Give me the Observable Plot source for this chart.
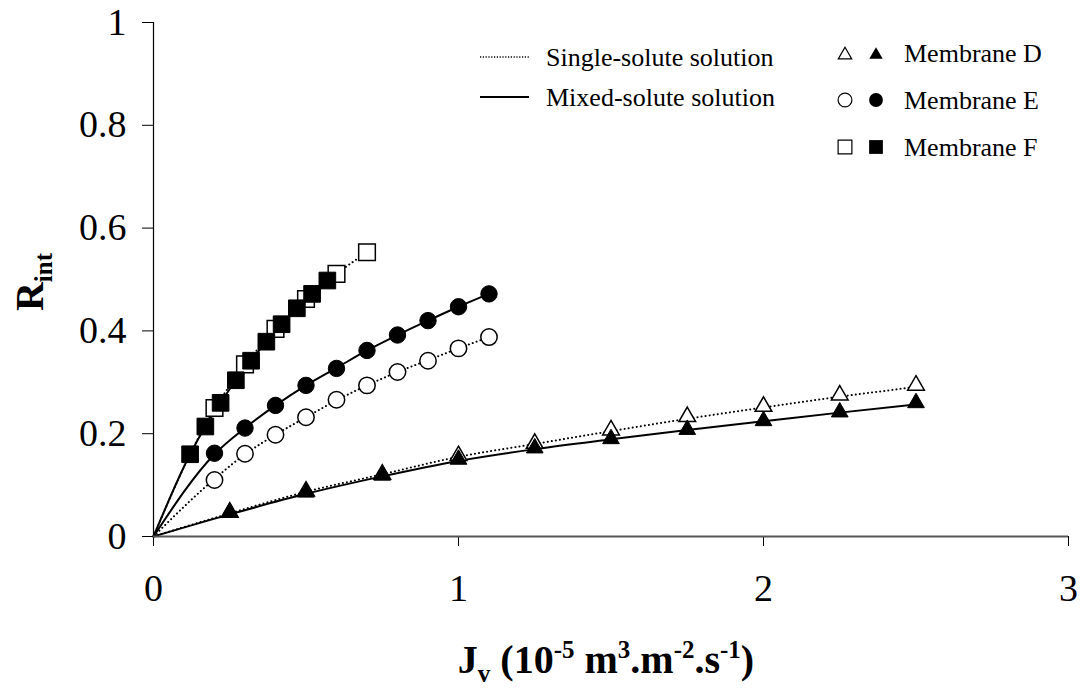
<!DOCTYPE html>
<html><head><meta charset="utf-8">
<script src="https://cdn.jsdelivr.net/npm/d3@7"></script>
<script src="https://cdn.jsdelivr.net/npm/@observablehq/plot@0.6"></script>
<style>
html,body{margin:0;padding:0;background:#fff;}
#wrap{position:relative;width:1082px;height:690px;overflow:hidden;}
#overlay{position:absolute;left:0;top:0;pointer-events:none;}
</style></head><body><div id="wrap"></div>
<script>
// ---- data ----
// Membrane D
const dX = [0.25, 0.5, 0.75, 1.0, 1.25, 1.5, 1.75, 2.0, 2.25, 2.5];
const dSingle = [0.047, 0.088, 0.121, 0.157, 0.181, 0.207, 0.233, 0.253, 0.275, 0.294];
const dMixed  = [0.047, 0.086, 0.119, 0.150, 0.172, 0.190, 0.208, 0.225, 0.242, 0.260];
// Membrane E
const eX = [0.2, 0.3, 0.4, 0.5, 0.6, 0.7, 0.8, 0.9, 1.0, 1.1];
const eSingle = [0.110, 0.161, 0.198, 0.232, 0.266, 0.294, 0.320, 0.342, 0.366, 0.388];
const eMixed  = [0.162, 0.211, 0.255, 0.294, 0.327, 0.362, 0.392, 0.420, 0.447, 0.472];
// Membrane F
const fSingleX = [0.2, 0.3, 0.4, 0.5, 0.6, 0.7];
const fSingle  = [0.250, 0.335, 0.404, 0.462, 0.511, 0.553];
const fMixedX  = [0.12, 0.17, 0.22, 0.27, 0.32, 0.37, 0.42, 0.47, 0.52, 0.57];
const fMixed   = [0.160, 0.214, 0.260, 0.304, 0.342, 0.379, 0.413, 0.444, 0.472, 0.498];

// fitted curves (all start at the origin)
const dSingleCurveX = [0, 0.25, 0.5, 0.75, 1.0, 1.25, 1.5, 1.75, 2.0, 2.25, 2.5];
const dSingleCurveY = [0, 0.045, 0.087, 0.121, 0.155, 0.180, 0.205, 0.229, 0.251, 0.272, 0.291];
const dMixedCurveX  = [0, 0.25, 0.5, 0.75, 1.0, 1.25, 1.5, 1.75, 2.0, 2.25, 2.5];
const dMixedCurveY  = [0, 0.043, 0.083, 0.117, 0.147, 0.170, 0.189, 0.207, 0.224, 0.241, 0.257];
const eSingleCurveX = [0, 0.2, 0.3, 0.4, 0.5, 0.6, 0.7, 0.8, 0.9, 1.0, 1.1];
const eSingleCurveY = [0, 0.112, 0.160, 0.198, 0.232, 0.265, 0.294, 0.320, 0.343, 0.366, 0.388];
const eMixedCurveX  = [0, 0.2, 0.3, 0.4, 0.5, 0.6, 0.7, 0.8, 0.9, 1.0, 1.1];
const eMixedCurveY  = [0, 0.160, 0.211, 0.255, 0.294, 0.328, 0.362, 0.392, 0.420, 0.447, 0.472];
const fSingleCurveX = [0, 0.12, 0.2, 0.3, 0.4, 0.5, 0.6, 0.7];
const fSingleCurveY = [0, 0.160, 0.248, 0.333, 0.404, 0.462, 0.511, 0.553];
const fMixedCurveX  = [0, 0.12, 0.17, 0.22, 0.27, 0.32, 0.37, 0.42, 0.47, 0.52, 0.57];
const fMixedCurveY  = [0, 0.160, 0.214, 0.260, 0.304, 0.342, 0.379, 0.413, 0.444, 0.472, 0.498];

const xTicks = [0, 1, 2, 3];
const yTicks = [0, 0.2, 0.4, 0.6, 0.8, 1];

const legendLines = ["Single-solute solution", "Mixed-solute solution"];
const legendMembranes = ["Membrane D", "Membrane E", "Membrane F"];

// ---- build tables ----
const toRows = (xs, ys, membrane, solution) => xs.map((x, i) => ({x, y: ys[i], membrane, solution}));
const ptsSingleD = toRows(dX, dSingle, "D", "single");
const ptsMixedD  = toRows(dX, dMixed, "D", "mixed");
const ptsSingleE = toRows(eX, eSingle, "E", "single");
const ptsMixedE  = toRows(eX, eMixed, "E", "mixed");
const ptsSingleF = toRows(fSingleX, fSingle, "F", "single");
const ptsMixedF  = toRows(fMixedX, fMixed, "F", "mixed");

const curvesSingle = [
  ...toRows(dSingleCurveX, dSingleCurveY, "D", "single"),
  ...toRows(eSingleCurveX, eSingleCurveY, "E", "single"),
  ...toRows(fSingleCurveX, fSingleCurveY, "F", "single")
];
const curvesMixed = [
  ...toRows(dMixedCurveX, dMixedCurveY, "D", "mixed"),
  ...toRows(eMixedCurveX, eMixedCurveY, "E", "mixed"),
  ...toRows(fMixedCurveX, fMixedCurveY, "F", "mixed")
];

const open = {fill: "white", stroke: "black", strokeWidth: 1.5};
const filled = {fill: "black", stroke: "black", strokeWidth: 1};

const chart = Plot.plot({
  width: 1082,
  height: 690,
  marginLeft: 153,
  marginRight: 14,
  marginTop: 22,
  marginBottom: 154,
  style: {fontFamily: "'Liberation Serif', 'Times New Roman', serif", fontSize: "38px", background: "white", color: "black"},
  x: {domain: [0, 3], ticks: xTicks, tickFormat: d3.format("~g"), tickSize: 10, tickPadding: 28, label: null},
  y: {domain: [0, 1], ticks: yTicks, tickFormat: d3.format("~g"), tickSize: 11, tickPadding: 16, label: null},
  marks: [
    Plot.ruleX([0], {stroke: "black", strokeWidth: 1.2}),
    Plot.line(curvesSingle, {x: "x", y: "y", z: "membrane", curve: "monotone-x", stroke: "black", strokeWidth: 2, strokeDasharray: "0.1,4", strokeLinecap: "round"}),
    Plot.line(curvesMixed, {x: "x", y: "y", z: "membrane", curve: "monotone-x", stroke: "black", strokeWidth: 2}),
    Plot.dot(ptsSingleD, {x: "x", y: "y", symbol: "triangle", r: 6.2, ...open}),
    Plot.dot(ptsMixedD, {x: "x", y: "y", symbol: "triangle", r: 6.2, ...filled}),
    Plot.dot(ptsSingleE, {x: "x", y: "y", symbol: "circle", r: 8.2, ...open}),
    Plot.dot(ptsMixedE, {x: "x", y: "y", symbol: "circle", r: 8.2, ...filled}),
    Plot.dot(ptsSingleF, {x: "x", y: "y", symbol: "square", r: 9.4, ...open}),
    Plot.dot(ptsMixedF, {x: "x", y: "y", symbol: "square", r: 9.4, ...filled}),
    Plot.ruleY([0], {stroke: "#555", strokeWidth: 2})
  ]
});
const wrap = document.getElementById("wrap");
wrap.appendChild(chart);

// ---- overlay: axis titles and legend ----
const ov = d3.select(wrap).append("svg").attr("id", "overlay")
  .attr("width", 1082).attr("height", 690)
  .style("font-family", "'Liberation Serif', 'Times New Roman', serif");

// x title
const xt = ov.append("text").attr("x", 606).attr("y", 673)
  .attr("text-anchor", "middle").attr("font-weight", "bold").attr("font-size", 40);
const parts = [
  ["J", 0, 40], ["v", 9, 25], [" (10", -9, 40], ["-5", -15, 25], [" m", 15, 40],
  ["3", -15, 25], [".m", 15, 40], ["-2", -15, 25], [".s", 15, 40], ["-1", -15, 25], [")", 15, 40]
];
parts.forEach(([t, dy, fs]) => xt.append("tspan").attr("dy", dy).attr("font-size", fs).text(t));

// y title
const yt = ov.append("text").attr("transform", "translate(43,282) rotate(-90)")
  .attr("text-anchor", "middle").attr("font-weight", "bold").attr("font-size", 40);
yt.append("tspan").text("R");
yt.append("tspan").attr("dy", 9).attr("font-size", 25).text("int");

// legend: line styles
const lg = ov.append("g").attr("font-size", 26);
[0, 1].forEach(i => {
  const yy = 57 + i * 40;
  lg.append("line").attr("x1", 480).attr("x2", 529).attr("y1", yy).attr("y2", yy)
    .attr("stroke", "black").attr("stroke-width", i === 0 ? 1.3 : 2)
    .attr("stroke-dasharray", i === 0 ? "1.2,1.6" : null);
  lg.append("text").attr("x", 546).attr("y", yy + 8.5).text(legendLines[i]);
});
// legend: membranes
const syms = [d3.symbolTriangle, d3.symbolCircle, d3.symbolSquare];
const sizes = [78, 150, 190];
[0, 1, 2].forEach(i => {
  const yy = 53 + i * 47;
  const ty = i === 0 ? yy + 2 : yy;
  lg.append("path").attr("d", d3.symbol(syms[i], sizes[i])())
    .attr("transform", `translate(845,${ty})`).attr("fill", "white").attr("stroke", "black").attr("stroke-width", 1.2);
  lg.append("path").attr("d", d3.symbol(syms[i], sizes[i])())
    .attr("transform", `translate(876,${ty})`).attr("fill", "black");
  lg.append("text").attr("x", 904).attr("y", yy + 8.5).text(legendMembranes[i]);
});
</script></body></html>
